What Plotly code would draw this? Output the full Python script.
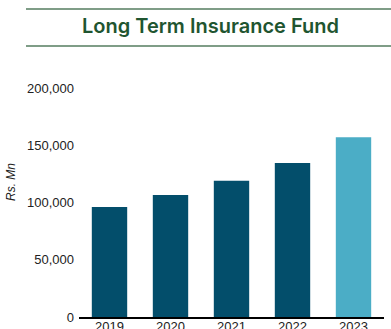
import plotly.graph_objects as go

years = ["2019", "2020", "2021", "2022", "2023"]
fund_values = [96000, 106500, 119000, 134500, 157000]
bar_colors = ["#034e6b", "#034e6b", "#034e6b", "#034e6b", "#4badc6"]
y_ticks = [0, 50000, 100000, 150000, 200000]
y_tick_labels = ["0", "50,000", "100,000", "150,000", "200,000"]

W, H = 391, 329
L, R, T, B = 79, 7, 88, 12
pw, ph = W - L - R, H - T - B


def px_x(px):
    return (px - L) / pw


def px_y(py):
    return (H - B - py) / ph


fig = go.Figure(
    go.Bar(
        x=years,
        y=fund_values,
        marker=dict(color=bar_colors, line=dict(width=0)),
        width=0.58,
        hoverinfo="x+y",
    )
)

rule_color = "#7f9d87"
for py in (9, 46):
    fig.add_shape(
        type="line", xref="paper", yref="paper",
        x0=px_x(26), x1=px_x(391), y0=px_y(py), y1=px_y(py),
        line=dict(color=rule_color, width=2),
    )

fig.add_annotation(
    text="Long Term Insurance Fund",
    xref="paper", yref="paper", x=px_x(210), y=px_y(26),
    xanchor="center", yanchor="middle", showarrow=False,
    font=dict(family="Inter", size=20, color="#1f5530", weight=600),
)

fig.add_annotation(
    text="<i>Rs. Mn</i>",
    xref="paper", yref="paper", x=px_x(11), y=px_y(182),
    xanchor="center", yanchor="middle", showarrow=False, textangle=-90,
    font=dict(family="Liberation Sans, Arial", size=12, color="#222222"),
)

fig.update_layout(
    width=W, height=H,
    margin=dict(l=L, r=R, t=T, b=B, autoexpand=False),
    paper_bgcolor="white", plot_bgcolor="white",
    showlegend=False,
    font=dict(family="Liberation Sans, Arial", size=13, color="#222222"),
    xaxis=dict(
        type="category", range=[-0.5, 4.5],
        showline=True, linecolor="black", linewidth=2,
        showgrid=False, ticks="", automargin=False,
        ticklabelstandoff=-4,
        tickfont=dict(size=13, color="#222222"),
    ),
    yaxis=dict(
        range=[0, 200000], tickvals=y_ticks, ticktext=y_tick_labels,
        showline=False, showgrid=False, zeroline=False, ticks="",
        automargin=False, ticklabelstandoff=4,
        tickfont=dict(size=13, color="#222222"),
    ),
)

fig.write_html("out.html")
